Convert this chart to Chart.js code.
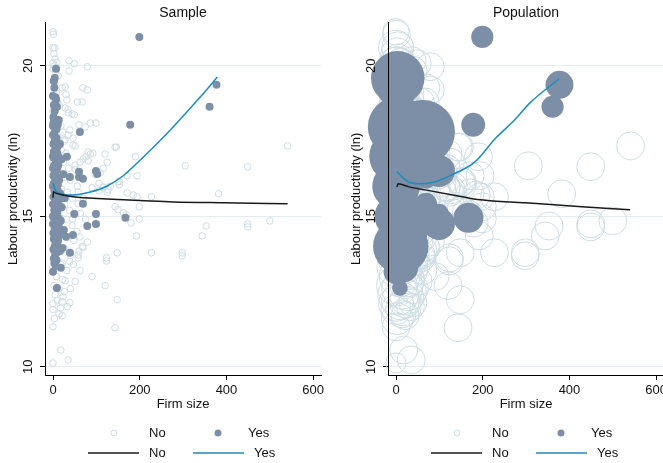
<!DOCTYPE html>
<html>
<head>
<meta charset="utf-8">
<script src="https://cdn.jsdelivr.net/npm/chart.js@4.4.1/dist/chart.umd.min.js"></script>
<style>
  html, body { margin: 0; padding: 0; background: #fff; overflow: hidden; }
  #wrap { position: relative; width: 663px; height: 463px; overflow: hidden; }
  .panel { position: absolute; top: 0; }
</style>
</head>
<body>
<div id="wrap">
  <div class="panel" style="left:0"><canvas id="sample" width="331" height="463"></canvas></div>
  <div class="panel" style="left:343px"><canvas id="population" width="331" height="463"></canvas></div>
</div>
<script>
const xTicks = [0, 200, 400, 600];
const yTicks = [10, 15, 20];
const groupLabels = ['No', 'Yes'];

// [firm size, ln labour productivity, population weight]
const firmsNo = [
  [0,21.13,17],[1,21.05,19],[5,20.23,22],[0,20.1,25],[9,20.12,19],[37,20.17,19],[49,20.07,19],[79,19.97,19],
  [37,19.83,22],[12,19.67,30],[28,19.3,19],[21,19.27,25],[69,19.27,19],[79,19.2,19],[30,19.04,22],[32,18.87,19],
  [56,18.8,19],[67,18.8,19],[28,18.6,25],[35,18.54,19],[49,18.37,19],[35,18.44,19],[44,18.4,22],[74,17.97,19],
  [86,18.1,19],[99,18.1,19],[60,18.04,25],[39,17.87,19],[35,17.7,22],[46,17.6,19],[51,17.34,19],[143,17.3,19],
  [81,17.14,19],[92,17.1,19],[76,16.98,22],[86,17.07,19],[120,17.07,19],[541,17.34,19],[62,16.8,19],[51,16.7,25],
  [81,16.84,19],[125,16.8,19],[190,16.98,19],[116,16.6,19],[305,16.68,19],[449,16.65,19],[109,16.45,19],[97,16.4,22],
  [171,16.35,19],[194,16.35,19],[150,16.15,19],[132,16.0,19],[116,15.95,19],[127,15.88,19],[171,15.78,19],[185,15.71,19],
  [194,15.65,19],[227,15.65,19],[382,15.75,19],[106,15.85,19],[90,15.95,22],[58,15.42,19],[143,15.32,19],[150,15.22,19],
  [162,15.12,19],[169,15.05,19],[199,15.32,19],[199,14.92,19],[180,14.78,19],[192,14.35,19],[353,14.68,19],[344,14.35,19],
  [449,14.75,19],[449,14.65,19],[500,14.85,19],[62,14.32,19],[79,14.15,19],[69,13.95,19],[148,13.79,19],[227,13.79,19],
  [298,13.79,19],[298,13.69,19],[123,13.62,19],[123,13.52,19],[60,13.85,22],[58,13.72,19],[58,13.62,19],[39,13.5,22],
  [21,13.45,25],[90,13.0,19],[120,12.7,19],[28,12.86,25],[51,12.84,19],[23,12.33,30],[21,12.16,25],[39,12.13,19],
  [148,12.23,19],[0,11.9,22],[14,11.76,19],[21,11.7,19],[0,11.33,19],[143,11.3,19],[18,10.56,19],[35,10.23,19],
  [0,10.13,10],[46,17.37,19],[28,17.55,19],[146,17.3,19],[69,16.9,19],[153,16.15,19],[153,16.05,19],[125,15.8,19],
  [106,16.1,19],[116,15.98,19],
  [0,20.6,30],[2,20.4,25],[3,20.0,35],[6,19.8,30],[0,19.5,40],[4,19.4,30],[8,19.1,35],[2,18.9,30],
  [10,18.8,25],[14,18.7,30],[0,18.5,35],[6,18.3,25],[15,18.2,30],[18,18.0,25],[3,17.9,30],[22,17.8,25],
  [12,17.6,30],[26,17.5,25],[5,17.3,35],[19,17.2,30],[30,17.1,25],[9,16.9,35],[24,16.8,30],[36,16.6,25],
  [14,16.5,35],[28,16.3,30],[40,16.2,25],[4,16.1,40],[20,15.9,30],[33,15.8,30],[45,15.6,25],[11,15.5,35],
  [27,15.4,30],[38,15.2,25],[50,15.1,22],[16,15.0,35],[31,14.9,30],[44,14.7,25],[7,14.6,40],[23,14.5,30],
  [35,14.3,30],[48,14.2,25],[12,14.0,35],[28,13.9,30],[40,13.7,25],[5,13.6,40],[18,13.4,35],[32,13.2,30],
  [8,13.0,40],[22,12.9,35],[2,12.7,40],[14,12.6,40],[26,12.5,35],[5,12.4,40],[10,12.2,35],[0,12.1,30],
  [17,11.95,30],[3,11.6,25],[8,15.2,30],[2,14.2,35],[0,13.3,35],[1,16.8,30],[3,17.6,30],[1,18.2,30],
  [2,19.1,30],[0,19.9,30],[4,20.6,25],[52,16.55,19],[65,16.3,19],[56,16.0,22],[70,15.6,19],[63,15.1,19],
  [75,14.9,19],[55,14.5,22],[68,14.0,19],[47,13.4,19],[62,13.2,19],[40,12.6,22],[33,12.0,19],[45,14.9,19],
  [58,15.8,19]
];

const firmsYes = [
  [199,20.96,12],[7,19.9,15],[3,19.27,40],[4,19.6,70],[7,18.87,20],[9,18.64,15],[377,19.37,19],[361,18.64,12],
  [178,18.04,14],[62,17.8,100],[11,18.04,30],[5,17.97,90],[32,16.98,25],[60,16.48,10],[60,16.31,12],[69,16.25,10],
  [99,16.51,25],[102,16.41,8],[39,16.31,15],[69,15.42,12],[49,15.08,18],[99,15.08,10],[99,14.75,25],[167,14.95,22],
  [79,14.68,8],[46,14.38,12],[30,14.32,15],[39,13.79,10],[18,13.29,20],[0,13.16,15],[9,12.62,6],
  [2,19.5,20],[4,18.5,30],[1,18.3,25],[6,18.2,20],[3,17.75,30],[8,17.6,25],[1,17.4,40],[5,17.2,30],
  [10,17.1,20],[2,16.95,60],[7,16.8,25],[12,16.7,20],[0,16.6,30],[4,16.45,25],[9,16.3,20],[14,16.2,15],
  [2,16.1,30],[6,15.95,20],[11,15.85,15],[17,15.75,12],[1,15.65,25],[5,15.55,20],[9,15.45,15],[14,15.35,12],
  [20,15.3,10],[3,15.2,25],[7,15.05,20],[12,14.95,15],[18,14.85,12],[0,14.75,30],[4,14.6,25],[9,14.5,20],
  [15,14.4,15],[2,14.25,30],[6,14.1,30],[11,14.0,75],[1,13.9,30],[5,13.75,25],[16,13.85,15],[22,13.95,12],
  [8,13.55,20],[3,13.45,20],[25,14.55,10],[27,15.6,10],[24,16.4,10],[20,16.9,12],[16,17.4,15],[13,18.2,15],
  [6,18.95,20],[0,15.0,45],[0,16.0,55],[0,17.0,70],[0,18.0,40],
  [0,19.0,4],[2,18.7,4],[5,18.6,4],[1,18.1,4],[8,17.9,4],[0,17.7,4],[4,17.5,4],[10,17.3,4],
  [2,17.15,4],[6,17.0,4],[14,16.95,4],[3,16.7,4],[9,16.55,4],[1,16.35,4],[5,16.2,4],[11,16.05,4],
  [3,15.85,4],[8,15.7,4],[13,15.55,4],[0,15.4,4],[6,15.3,4],[10,15.15,4],[2,14.95,4],[6,14.8,4],
  [13,14.7,4],[1,14.45,4],[7,14.3,4],[12,14.2,4],[4,14.0,4],[9,13.8,4],[2,13.6,4],[6,13.35,4]
];

// lowess fits, sample (unweighted)
const fitSampleNoX = [0, 1, 5, 20, 46, 125, 224, 277, 393, 541];
const fitSampleNoY = [15.62, 15.82, 15.78, 15.72, 15.65, 15.58, 15.51, 15.48, 15.45, 15.42];
const fitSampleYesX = [0, 5, 16, 32, 46, 86, 125, 162, 185, 264, 340, 379];
const fitSampleYesY = [16.11, 15.88, 15.75, 15.71, 15.71, 15.81, 16.01, 16.35, 16.65, 17.77, 18.97, 19.63];
// lowess fits, population (weighted)
const fitPopNoX = [2, 5, 30, 67, 143, 194, 298, 420, 540];
const fitPopNoY = [15.98, 16.08, 15.98, 15.88, 15.68, 15.55, 15.45, 15.33, 15.22];
const fitPopYesX = [2, 28, 60, 90, 129, 182, 230, 274, 309, 376];
const fitPopYesY = [16.48, 16.15, 16.08, 16.15, 16.38, 16.81, 17.6, 18.21, 18.77, 19.57];

const colNo = '#cddde4';
const colYes = '#7c8fa6';
const colFitNo = '#1a1a1a';
const colFitYes = '#1b8bc2';
const bubbleScale = 3.2;

Chart.defaults.font.family = '"Liberation Sans", Arial, sans-serif';
Chart.defaults.color = '#111';

const toPoints = list => list.map(p => ({ x: p[0], y: p[1] }));
const toBubbles = list => list.map(p => ({ x: p[0], y: p[1], r: bubbleScale * Math.sqrt(p[2]) }));
const toLine = (xs, ys) => xs.map((x, i) => ({ x, y: ys[i] }));

const keyLegend = {
  id: 'keyLegend',
  afterDraw(chart) {
    const ctx = chart.ctx;
    const a = chart.chartArea;
    const cx = (a.left + a.right) / 2;
    const y1 = 433, y2 = 453;
    ctx.save();
    ctx.font = '13px "Liberation Sans", Arial, sans-serif';
    ctx.textBaseline = 'middle';
    ctx.textAlign = 'left';
    // markers
    ctx.beginPath();
    ctx.arc(cx - 69, y1, 3, 0, Math.PI * 2);
    ctx.strokeStyle = colNo; ctx.lineWidth = 1; ctx.stroke();
    ctx.beginPath();
    ctx.arc(cx + 35, y1, 3.5, 0, Math.PI * 2);
    ctx.fillStyle = colYes; ctx.fill();
    ctx.fillStyle = '#111';
    ctx.fillText(groupLabels[0], cx - 34, y1);
    ctx.fillText(groupLabels[1], cx + 65, y1);
    // lines
    ctx.lineWidth = 1.5;
    ctx.strokeStyle = colFitNo;
    ctx.beginPath(); ctx.moveTo(cx - 95, y2); ctx.lineTo(cx - 44, y2); ctx.stroke();
    ctx.strokeStyle = colFitYes;
    ctx.beginPath(); ctx.moveTo(cx + 10, y2); ctx.lineTo(cx + 61, y2); ctx.stroke();
    ctx.fillText(groupLabels[0], cx - 34, y2);
    ctx.fillText(groupLabels[1], cx + 71, y2);
    ctx.restore();
  }
};

function makeScales() {
  return {
    x: {
      type: 'linear', min: -18.5, max: 618,
      afterBuildTicks: s => { s.ticks = xTicks.map(v => ({ value: v })); },
      afterFit: s => { s.height = 45; },
      grid: { drawOnChartArea: false, tickLength: 5, tickColor: '#000' },
      border: { color: '#000', z: 1 },
      ticks: { font: { size: 13 }, padding: 3, maxRotation: 0, z: 1 },
      title: { display: true, text: 'Firm size', font: { size: 13 }, padding: { top: 0, bottom: 8 } }
    },
    y: {
      type: 'linear', min: 9.73, max: 21.43,
      afterBuildTicks: s => { s.ticks = yTicks.map(v => ({ value: v })); },
      afterFit: s => { s.width = 45; },
      grid: { color: '#e4eef1', tickLength: 5, tickColor: '#000' },
      border: { color: '#000', z: 1 },
      ticks: { font: { size: 13 }, minRotation: 90, maxRotation: 90, crossAlign: 'center', padding: 4, z: 1 },
      title: { display: true, text: 'Labour productivity (ln)', font: { size: 13 }, padding: 6 }
    }
  };
}

function makeOptions(title) {
  return {
    responsive: false,
    animation: false,
    events: [],
    layout: { autoPadding: false, padding: { left: 0, right: 10, top: 0, bottom: 43 } },
    scales: makeScales(),
    plugins: {
      legend: { display: false },
      tooltip: { enabled: false },
      title: {
        display: true, text: title, fullSize: false, color: '#111',
        font: { size: 14, weight: 'normal' }, padding: { top: 5, bottom: 1 }
      }
    }
  };
}

function fitLine(xs, ys, color) {
  return {
    type: 'line', data: toLine(xs, ys), borderColor: color, borderWidth: 1.5,
    pointRadius: 0, fill: false, cubicInterpolationMode: 'monotone', order: 0
  };
}

new Chart(document.getElementById('sample'), {
  type: 'scatter',
  data: {
    datasets: [
      fitLine(fitSampleNoX, fitSampleNoY, colFitNo),
      fitLine(fitSampleYesX, fitSampleYesY, colFitYes),
      { type: 'scatter', data: toPoints(firmsYes), pointRadius: 4, backgroundColor: colYes,
        borderWidth: 0, order: 1, clip: false },
      { type: 'scatter', data: toPoints(firmsNo), pointRadius: 3.3, backgroundColor: 'rgba(255,255,255,0)',
        borderColor: colNo, borderWidth: 1, order: 2, clip: false }
    ]
  },
  options: makeOptions('Sample'),
  plugins: [keyLegend]
});

new Chart(document.getElementById('population'), {
  type: 'scatter',
  data: {
    datasets: [
      fitLine(fitPopNoX, fitPopNoY, colFitNo),
      fitLine(fitPopYesX, fitPopYesY, colFitYes),
      { type: 'bubble', data: toBubbles(firmsYes), backgroundColor: colYes,
        borderWidth: 0, order: 1, clip: false },
      { type: 'bubble', data: toBubbles(firmsNo), backgroundColor: 'rgba(255,255,255,0)',
        borderColor: colNo, borderWidth: 1, order: 2, clip: false }
    ]
  },
  options: makeOptions('Population'),
  plugins: [keyLegend]
});
</script>
</body>
</html>
